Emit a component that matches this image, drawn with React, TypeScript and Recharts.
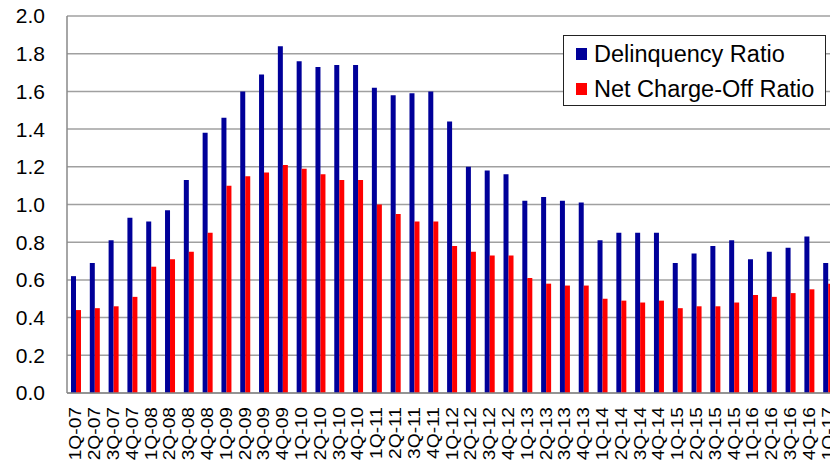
import React from 'react';
import { BarChart, Bar, XAxis, YAxis, CartesianGrid, Legend } from 'recharts';

const quarters = [
  '1Q-07','2Q-07','3Q-07','4Q-07',
  '1Q-08','2Q-08','3Q-08','4Q-08',
  '1Q-09','2Q-09','3Q-09','4Q-09',
  '1Q-10','2Q-10','3Q-10','4Q-10',
  '1Q-11','2Q-11','3Q-11','4Q-11',
  '1Q-12','2Q-12','3Q-12','4Q-12',
  '1Q-13','2Q-13','3Q-13','4Q-13',
  '1Q-14','2Q-14','3Q-14','4Q-14',
  '1Q-15','2Q-15','3Q-15','4Q-15',
  '1Q-16','2Q-16','3Q-16','4Q-16',
  '1Q-17',
];

const delinquencyRatio = [
  0.62, 0.69, 0.81, 0.93,
  0.91, 0.97, 1.13, 1.38,
  1.46, 1.60, 1.69, 1.84,
  1.76, 1.73, 1.74, 1.74,
  1.62, 1.58, 1.59, 1.60,
  1.44, 1.20, 1.18, 1.16,
  1.02, 1.04, 1.02, 1.01,
  0.81, 0.85, 0.85, 0.85,
  0.69, 0.74, 0.78, 0.81,
  0.71, 0.75, 0.77, 0.83,
  0.69,
];

const netChargeOffRatio = [
  0.44, 0.45, 0.46, 0.51,
  0.67, 0.71, 0.75, 0.85,
  1.10, 1.15, 1.17, 1.21,
  1.19, 1.16, 1.13, 1.13,
  1.00, 0.95, 0.91, 0.91,
  0.78, 0.75, 0.73, 0.73,
  0.61, 0.58, 0.57, 0.57,
  0.50, 0.49, 0.48, 0.49,
  0.45, 0.46, 0.46, 0.48,
  0.52, 0.51, 0.53, 0.55,
  0.58,
];

const yTicks = [0, 0.2, 0.4, 0.6, 0.8, 1.0, 1.2, 1.4, 1.6, 1.8, 2.0];

const seriesNames = ['Delinquency Ratio', 'Net Charge-Off Ratio'];
const seriesColors = ['#000099', '#FF0000'];

const data = quarters.map((q, i) => ({
  quarter: q,
  delinquency: delinquencyRatio[i],
  netChargeOff: netChargeOffRatio[i],
}));

const FONT = '"Liberation Sans", Arial, sans-serif';

const XTick = (props: any) => {
  const { x, y, payload } = props;
  return (
    <g transform={`translate(${x},${y + 14})`}>
      <text
        transform="rotate(-90) scale(1.2,1)"
        x={0}
        y={0}
        dy={5}
        textAnchor="end"
        fontFamily={FONT}
        fontSize={16}
        fill="#000"
      >
        {payload.value}
      </text>
    </g>
  );
};

const LegendContent = () => (
  <div
    style={{
      width: 261,
      height: 69,
      border: '1px solid #222',
      background: '#fff',
      fontFamily: FONT,
      fontSize: 23.5,
      color: '#000',
      position: 'relative',
    }}
  >
    {seriesNames.map((name, i) => (
      <div
        key={name}
        style={{
          position: 'absolute',
          left: 12,
          top: 1 + i * 35,
          height: 34,
          display: 'flex',
          alignItems: 'center',
          whiteSpace: 'nowrap',
        }}
      >
        <span
          style={{
            display: 'inline-block',
            width: 11,
            height: 12,
            background: seriesColors[i],
            marginRight: 7,
          }}
        />
        <span>{name}</span>
      </div>
    ))}
  </div>
);

export default function App() {
  return (
    <div
      style={{
        position: 'fixed',
        left: 0,
        top: 0,
        width: 830,
        height: 470,
        overflow: 'hidden',
        background: '#fff',
      }}
    >
      <BarChart
        width={838}
        height={470}
        data={data}
        margin={{ top: 16, right: 0, bottom: 0, left: 0 }}
        barCategoryGap={4}
        barGap={0}
      >
        <CartesianGrid vertical={false} stroke="#a0a0a0" strokeWidth={1.5} />
        <XAxis
          dataKey="quarter"
          interval={0}
          height={77}
          tickLine={false}
          tickSize={0}
          tickMargin={0}
          axisLine={{ stroke: '#888', strokeWidth: 1.5 }}
          tick={<XTick />}
        />
        <YAxis
          width={67}
          domain={[0, 2]}
          ticks={yTicks}
          interval={0}
          tickLine={false}
          tickSize={0}
          tickMargin={22}
          axisLine={{ stroke: '#888', strokeWidth: 1.5 }}
          tickFormatter={(v: number) => v.toFixed(1)}
          tick={{ fontFamily: FONT, fontSize: 21, fill: '#000' }}
        />
        <Legend
          content={<LegendContent />}
          wrapperStyle={{
            position: 'absolute',
            left: 563,
            top: 35,
            width: 0,
            height: 0,
            overflow: 'visible',
          }}
        />
        <Bar
          dataKey="delinquency"
          name={seriesNames[0]}
          fill={seriesColors[0]}
          isAnimationActive={false}
        />
        <Bar
          dataKey="netChargeOff"
          name={seriesNames[1]}
          fill={seriesColors[1]}
          isAnimationActive={false}
        />
      </BarChart>
    </div>
  );
}
